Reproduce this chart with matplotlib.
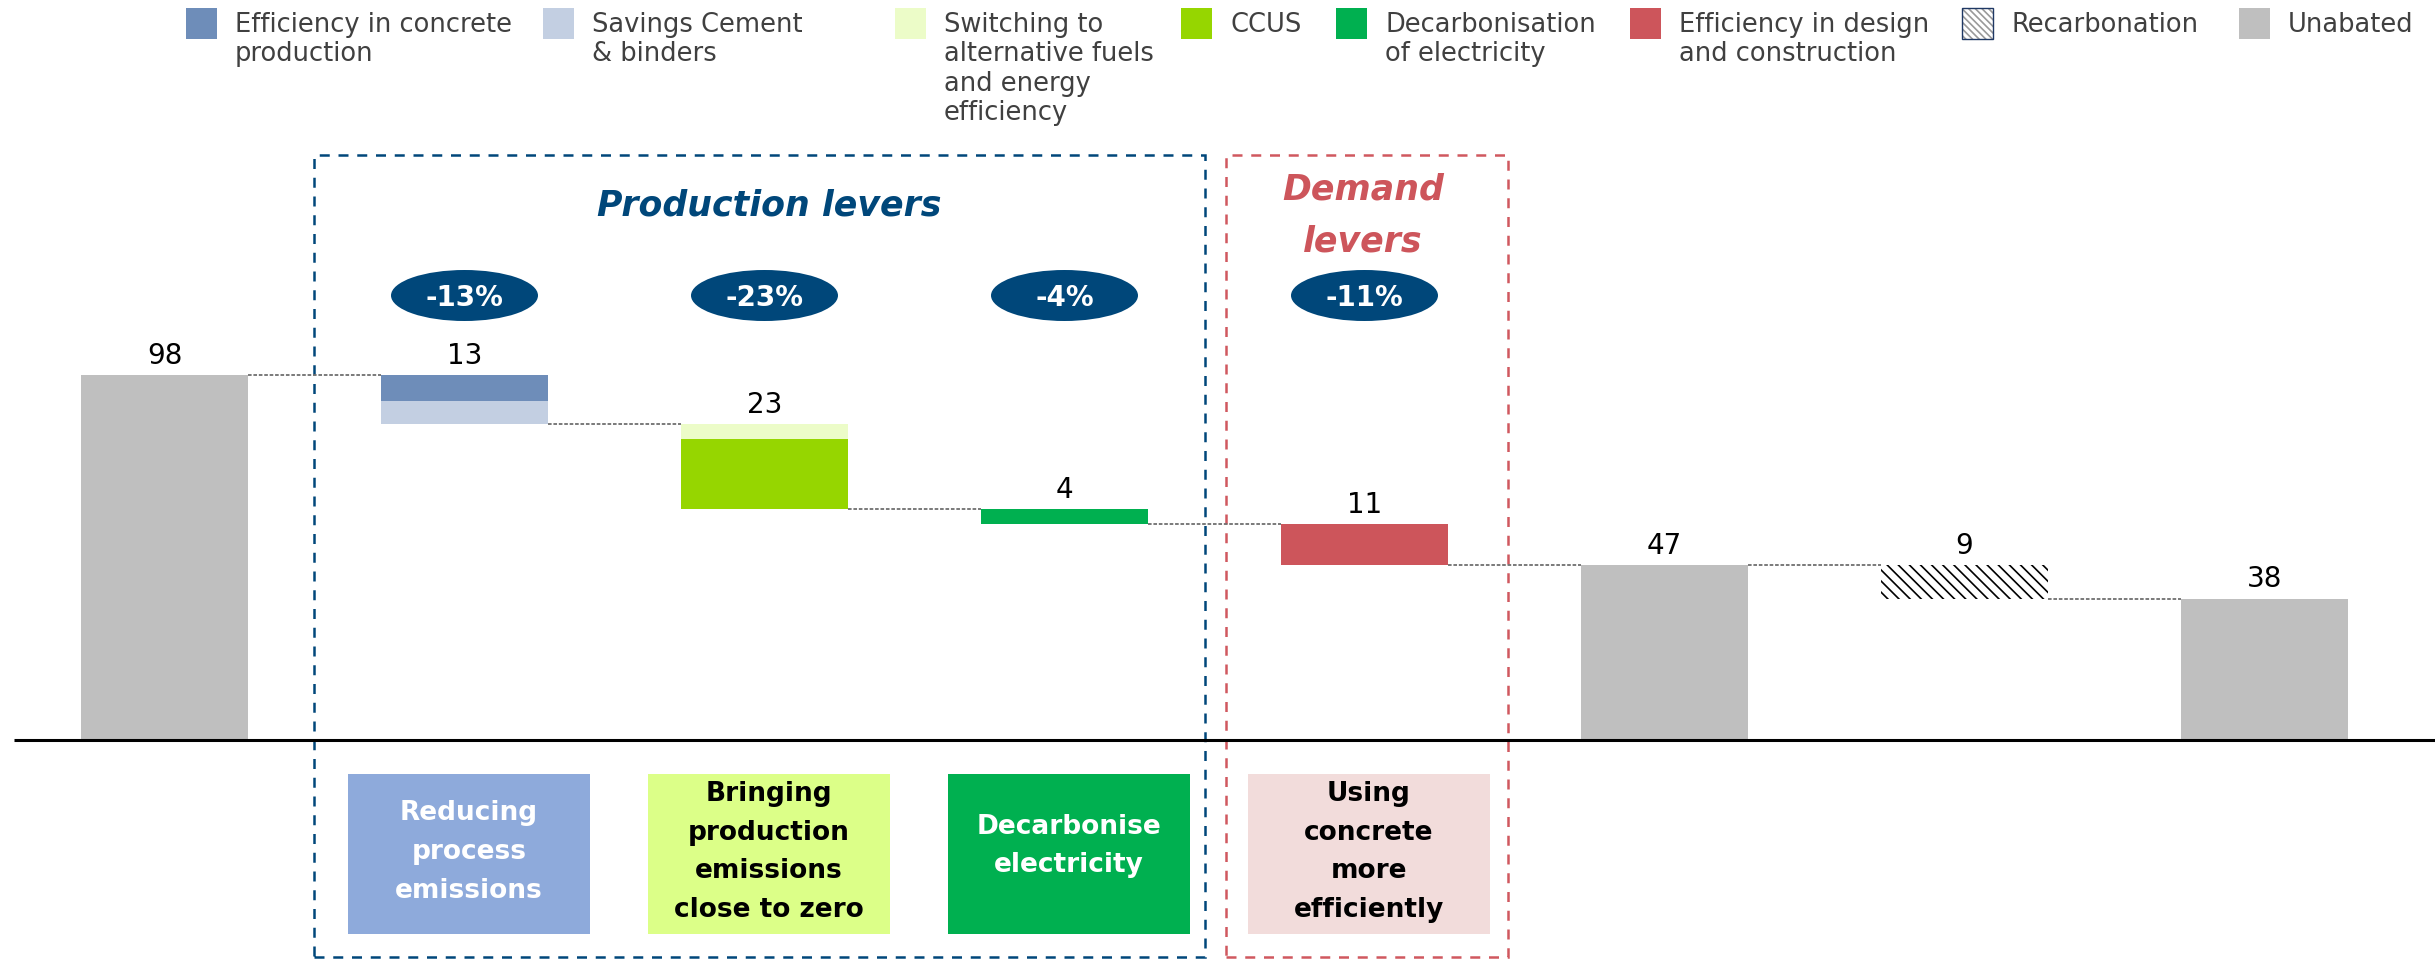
import matplotlib
matplotlib.use("Agg")
import matplotlib.pyplot as plt
from matplotlib.patches import Rectangle, Ellipse

plt.rcParams["font.family"] = ["DejaVu Sans"]
plt.rcParams["hatch.linewidth"] = 1.2

# ---------------- data ----------------
start_value = 98
lever_segments = [[7, 6], [4, 19], [4], [11]]
lever_shares = ["-13%", "-23%", "-4%", "-11%"]
recarbonation = 9

segment_names = [
    ["Efficiency in concrete\nproduction", "Savings Cement\n& binders"],
    ["Switching to\nalternative fuels\nand energy\nefficiency", "CCUS"],
    ["Decarbonisation\nof electricity"],
    ["Efficiency in design\nand construction"],
]
recarb_name = "Recarbonation"
unabated_name = "Unabated"

lever_captions = [
    "Reducing\nprocess\nemissions",
    "Bringing\nproduction\nemissions\nclose to zero",
    "Decarbonise\nelectricity",
    "Using\nconcrete\nmore\nefficiently",
]
group_titles = ["Production levers", "Demand\nlevers"]

# ---------------- styles ----------------
segment_colors = [["#6E8DB9", "#C3CFE2"], ["#ECFCC8", "#96D600"], ["#00B050"], ["#CD555B"]]
gray = "#BFBFBF"
navy = "#00477A"
red = "#CD555B"
caption_colors = ["#8EAADB", "#DCFF88", "#00B050", "#F2DCDB"]
caption_text_colors = ["white", "black", "white", "black"]

W, H = 2435, 959
fig = plt.figure(figsize=(W / 100, H / 100), dpi=100)
ax = fig.add_axes([0, 0, 1, 1])

# pixel <-> data helpers for the layout
X0, DX, Y0, DY = 164.5, 300.0, 740.0, 3.72


def X(px):
    return (px - X0) / DX


def Y(py):
    return (Y0 - py) / DY


ax.set_xlim(X(0), X(W))
ax.set_ylim(Y(H), Y(0))
ax.axis("off")

bar_w = 167 / DX
label_kw = dict(ha="center", va="baseline", fontsize=20, color="black")

# ---------------- waterfall ----------------
ends = []  # (position, level where the step ends)
ax.bar(0, start_value, width=bar_w, color=gray, lw=0)
ax.text(0, start_value + 3, f"{start_value}", **label_kw)
ends.append((0, start_value))

level = start_value
pos = 1
for segs, cols in zip(lever_segments, segment_colors):
    top = level
    for v, c in zip(segs, cols):
        ax.bar(pos, v, bottom=level - v, width=bar_w, color=c, lw=0)
        level -= v
    ax.text(pos, top + 3, f"{sum(segs)}", **label_kw)
    ends.append((pos, level))
    pos += 1

mid_value = level
ax.bar(pos, mid_value, width=bar_w, color=gray, lw=0)
ax.text(pos, mid_value + 3, f"{mid_value}", **label_kw)
ends.append((pos, mid_value))
pos += 1

ax.bar(pos, recarbonation, bottom=mid_value - recarbonation, width=bar_w,
       facecolor="white", edgecolor="black", lw=0, hatch="\\\\\\")
ax.text(pos, mid_value + 3, f"{recarbonation}", **label_kw)
level = mid_value - recarbonation
ends.append((pos, level))
pos += 1

ax.bar(pos, level, width=bar_w, color=gray, lw=0)
ax.text(pos, level + 3, f"{level}", **label_kw)

for (p, lv) in ends:
    ax.plot([p + bar_w / 2, p + 1 - bar_w / 2], [lv, lv], color="#6F6F6F",
            lw=1.3, linestyle=(0, (2, 1)), solid_capstyle="butt")

# baseline
ax.plot([X(14), X(W)], [0, 0], color="black", lw=2.2, solid_capstyle="butt")

# ---------------- group frames and titles ----------------
ax.add_patch(Rectangle((X(314), Y(957)), (1205 - 314) / DX, (957 - 155) / DY,
                       fill=False, edgecolor=navy, lw=1.8,
                       linestyle=(0, (4, 3.5)), clip_on=False))
ax.add_patch(Rectangle((X(1226), Y(957)), (1508 - 1226) / DX, (957 - 155) / DY,
                       fill=False, edgecolor="#D0585F", lw=1.8,
                       linestyle=(0, (4, 3.5)), clip_on=False))

ax.text(X(769), Y(216), group_titles[0], ha="center", va="baseline",
        fontsize=25, fontweight="bold", fontstyle="italic", color=navy)
ax.text(X(1363), Y(173), group_titles[1], ha="center", va="top",
        fontsize=25, fontweight="bold", fontstyle="italic", color=red,
        linespacing=1.63)

# percentage badges
for i, share in enumerate(lever_shares):
    cx = i + 1
    ax.add_patch(Ellipse((cx, Y(295.5)), 147 / DX, 51 / DY, facecolor=navy,
                         edgecolor="none"))
    ax.text(cx, Y(295.5), share, ha="center", va="center_baseline",
            fontsize=20, fontweight="bold", color="white")

# caption boxes under the axis
for i, (cap, fc, tc) in enumerate(zip(lever_captions, caption_colors,
                                      caption_text_colors)):
    cx = i + 1 + 0.015
    ax.add_patch(Rectangle((cx - 121 / DX, Y(934)), 242 / DX, 160 / DY,
                           facecolor=fc, edgecolor="none"))
    cy = 846 if i == 2 else 852
    ax.text(cx, Y(cy), cap, ha="center", va="center", fontsize=19,
            fontweight="bold", color=tc, linespacing=1.63)

# ---------------- legend ----------------
legend_x = [186, 543, 895, 1181, 1336, 1630, 1962, 2239]
names = [n for grp in segment_names for n in grp] + [recarb_name, unabated_name]
colors = [c for grp in segment_colors for c in grp] + [None, gray]
for x0, name, col in zip(legend_x, names, colors):
    if col is None:
        ax.add_patch(Rectangle((X(x0), Y(39)), 31 / DX, 31 / DY,
                               facecolor="white", edgecolor="#9A9A9A", lw=0,
                               hatch="\\\\\\\\\\", clip_on=False))
        ax.add_patch(Rectangle((X(x0), Y(39)), 31 / DX, 31 / DY, fill=False,
                               edgecolor="#1F3864", lw=1.0, clip_on=False))
    else:
        ax.add_patch(Rectangle((X(x0), Y(39)), 31 / DX, 31 / DY,
                               facecolor=col, edgecolor="none", clip_on=False))
    ax.text(X(x0 + 49), Y(12), name, ha="left", va="top", fontsize=18.5,
            color="#404040", linespacing=1.17)

fig.savefig("out.png", dpi=100)
